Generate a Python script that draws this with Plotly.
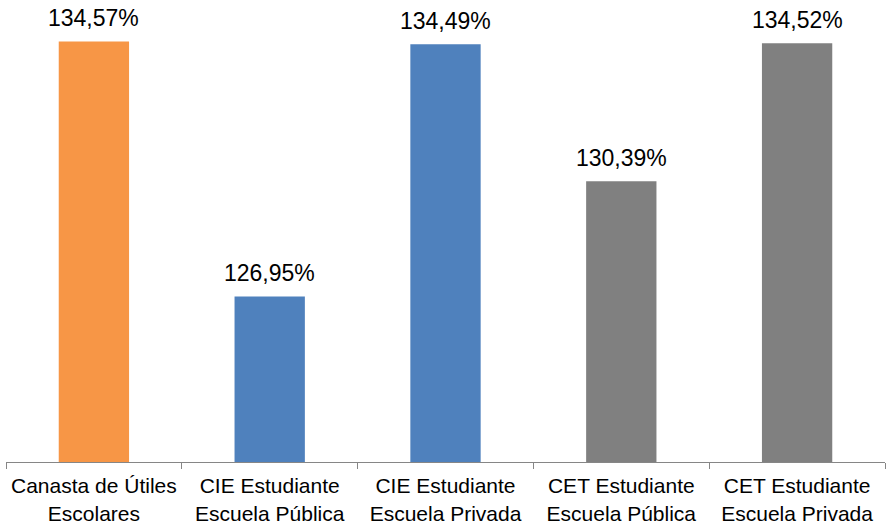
import plotly.graph_objects as go

categories = ["Canasta de Útiles<br>Escolares", "CIE Estudiante<br>Escuela Pública",
              "CIE Estudiante<br>Escuela Privada", "CET Estudiante<br>Escuela Pública",
              "CET Estudiante<br>Escuela Privada"]
values = [134.57, 126.95, 134.49, 130.39, 134.52]
colors = ["#F79646", "#4F81BD", "#4F81BD", "#808080", "#808080"]
labels = [f"{v:.2f}".replace(".", ",") + "%" for v in values]

fig = go.Figure(go.Bar(x=categories, y=values, marker=dict(color=colors, line=dict(width=0)),
                       width=0.4, hoverinfo="skip"))

for c, v, t in zip(categories, values, labels):
    fig.add_annotation(x=c, y=v, text=t, showarrow=False, yanchor="bottom", yshift=8,
                       font=dict(family="Liberation Sans, Arial, sans-serif", size=23, color="#000000"))

fig.update_layout(
    width=888, height=526,
    margin=dict(l=6, r=3, t=6, b=64, autoexpand=False),
    paper_bgcolor="white", plot_bgcolor="white",
    showlegend=False,
    font=dict(family="Liberation Sans, Arial, sans-serif", color="#000000"),
    xaxis=dict(range=[-0.5, 4.5], showline=True, linecolor="#868686", linewidth=1,
               ticks="outside", tickson="boundaries", ticklen=6, tickcolor="#868686",
               tickfont=dict(size=21, color="#000000"), showgrid=False, zeroline=False,
               automargin=False, ticklabelstandoff=5),
    yaxis=dict(range=[122, 135.63], visible=False, showgrid=False, zeroline=False,
               automargin=False),
)

fig.write_html("out.html", config={"displayModeBar": False},
               post_script="document.body.style.margin='0px';document.body.style.overflow='hidden';")
